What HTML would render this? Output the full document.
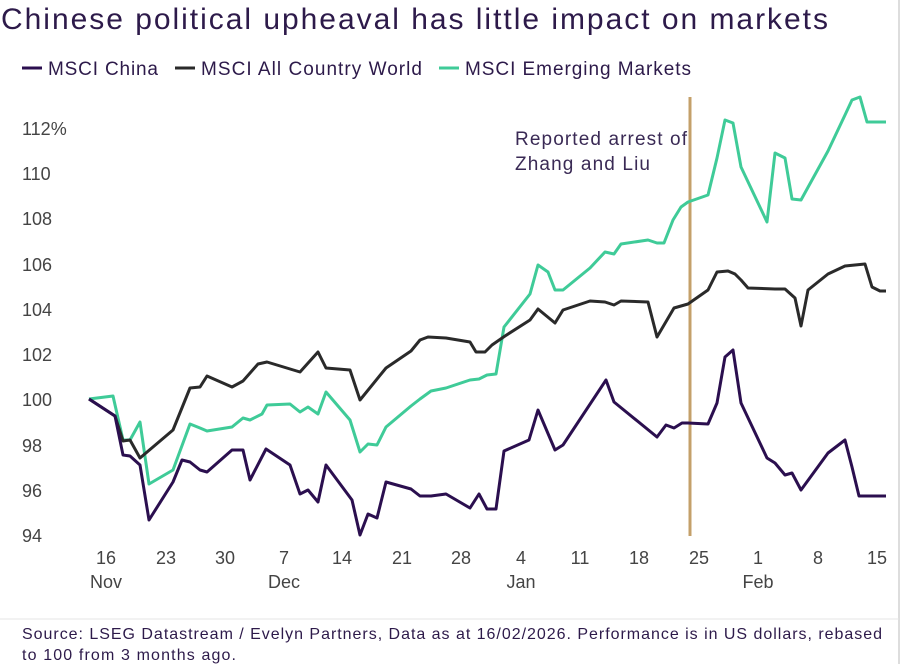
<!DOCTYPE html>
<html><head><meta charset="utf-8"><style>
body{margin:0;background:#fff;width:901px;height:664px;overflow:hidden;font-family:"Liberation Sans",sans-serif;}
</style></head><body>
<svg width="901" height="664" viewBox="0 0 901 664" xmlns="http://www.w3.org/2000/svg" font-family="Liberation Sans, sans-serif">
<rect width="901" height="664" fill="#fff"/>
<line x1="899" y1="0" x2="899" y2="664" stroke="#ddd" stroke-width="2"/>
<line x1="0" y1="619" x2="899" y2="619" stroke="#e4e4e4" stroke-width="1"/>
<text x="1" y="29" font-size="30" fill="#2d1a4a" textLength="827" lengthAdjust="spacing">Chinese political upheaval has little impact on markets</text>
<g font-size="19" fill="#2d1a4a">
<line x1="22" y1="68" x2="42" y2="68" stroke="#2b0f4f" stroke-width="3"/><text x="48" y="75" textLength="110" lengthAdjust="spacing">MSCI China</text>
<line x1="175" y1="68" x2="195" y2="68" stroke="#2a2a2a" stroke-width="3"/><text x="201" y="75" textLength="221" lengthAdjust="spacing">MSCI All Country World</text>
<line x1="439" y1="68" x2="459" y2="68" stroke="#3fcb98" stroke-width="3"/><text x="465" y="75" textLength="226" lengthAdjust="spacing">MSCI Emerging Markets</text>
</g>
<g font-size="18" fill="#444">
<text x="22" y="135">112%</text><text x="22" y="180">110</text><text x="22" y="225">108</text><text x="22" y="271">106</text><text x="22" y="316">104</text><text x="22" y="361">102</text><text x="22" y="406">100</text><text x="22" y="452">98</text><text x="22" y="497">96</text><text x="22" y="542">94</text>
</g>
<g font-size="18" fill="#444" text-anchor="middle">
<text x="106" y="564">16</text><text x="166" y="564">23</text><text x="225" y="564">30</text><text x="284" y="564">7</text><text x="342" y="564">14</text><text x="402" y="564">21</text><text x="461" y="564">28</text><text x="521" y="564">4</text><text x="580" y="564">11</text><text x="639" y="564">18</text><text x="699" y="564">25</text><text x="758" y="564">1</text><text x="818" y="564">8</text><text x="877" y="564">15</text>
<text x="106" y="588">Nov</text><text x="284" y="588">Dec</text><text x="521" y="588">Jan</text><text x="758" y="588">Feb</text>
</g>
<line x1="690" y1="97" x2="690" y2="536" stroke="#c4a06a" stroke-width="3"/>
<text x="515" y="145" font-size="19" fill="#3a2a55" textLength="172" lengthAdjust="spacing">Reported arrest of</text>
<text x="515" y="170" font-size="19" fill="#3a2a55" textLength="135" lengthAdjust="spacing">Zhang and Liu</text>
<g fill="none" stroke-width="3" stroke-linejoin="round">
<polyline stroke="#3fcb98" points="89,399 113,396 123,440 130,440 140,422 149,484 173,470 190,424 200,428 207,431 232,427 243,418 250,420 262,414 267,405 290,404 300,412 308,407 318,414 326,392 350,420 360,452 368,444 377,445 386,427 411,406 420,399 431,391 446,388 470,380 479,379 487,375 496,374 504,327 530,294 538,265 548,272 555,290 563,290 590,268 605,252 614,254 621,244 648,240 657,243 664,243 673,220 681,207 688,202 708,195 717,158 725,120 733,123 741,167 767,222 775,153 785,158 792,199 801,200 828,151 845,115 852,100 860,97 867,122 886,122"/>
<polyline stroke="#2a2a2a" points="89,399 115,416 123,441 130,440 140,458 173,430 190,388 200,387 207,376 232,387 243,381 258,364 267,362 300,372 318,352 326,368 350,370 360,400 386,368 411,351 420,340 428,337 446,338 470,342 476,352 485,352 492,345 505,336 530,320 538,309 555,323 563,310 590,301 605,302 614,305 621,301 648,302 657,337 674,308 688,304 708,290 717,272 728,271 735,274 741,280 748,288 775,289 785,289 795,298 801,326 808,290 828,274 845,266 865,264 872,287 880,291 886,291"/>
<polyline stroke="#2b0f4f" points="89,399 115,416 123,455 130,456 140,465 149,520 173,482 182,460 190,462 200,470 207,472 232,450 243,450 250,480 266,449 290,465 300,494 308,490 318,502 326,465 352,500 360,535 368,514 377,518 386,482 411,489 420,496 431,496 446,494 470,508 479,494 487,509 496,509 504,451 529,440 538,410 555,450 563,445 606,380 614,402 657,437 666,425 674,428 682,423 688,423 708,424 717,403 725,357 733,350 741,403 767,458 775,463 785,475 792,473 801,490 828,453 845,440 852,467 859,496 886,496"/>
</g>
<text x="22" y="639" font-size="16" fill="#2d1a4a" textLength="860" lengthAdjust="spacing">Source: LSEG Datastream / Evelyn Partners, Data as at 16/02/2026. Performance is in US dollars, rebased</text>
<text x="22" y="660" font-size="16" fill="#2d1a4a" textLength="214" lengthAdjust="spacing">to 100 from 3 months ago.</text>
</svg>
</body></html>
